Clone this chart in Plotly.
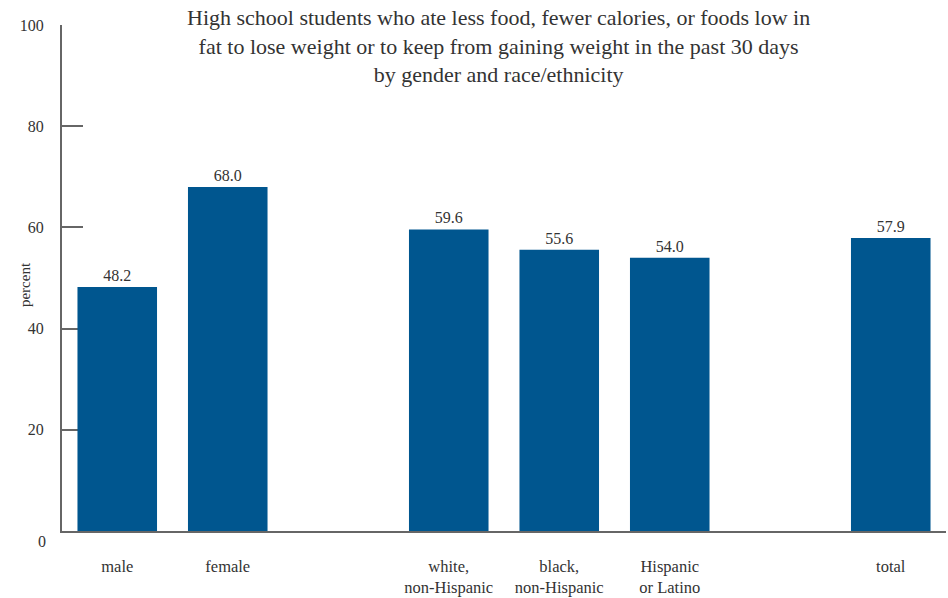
import plotly.graph_objects as go

categories = ["male", "female", "white,<br>non-Hispanic", "black,<br>non-Hispanic", "Hispanic<br>or Latino", "total"]
values = [48.2, 68.0, 59.6, 55.6, 54.0, 57.9]
value_labels = ["48.2", "68.0", "59.6", "55.6", "54.0", "57.9"]
slot_order = ["male", "female", " ", "white,<br>non-Hispanic", "black,<br>non-Hispanic", "Hispanic<br>or Latino", "  ", "total"]
y_ticks = [20, 40, 60, 80, 100]
title_text = ("High school students who ate less food, fewer calories, or foods low in<br>"
              "fat to lose weight or to keep from gaining weight in the past 30 days<br>"
              "by gender and race/ethnicity")

FONT = "Liberation Serif"
BAR = "#00568f"
AX = "#666666"
TXT = "#333333"
PLOT_W, PLOT_H = 884, 506

fig = go.Figure(go.Bar(
    x=categories, y=values, text=value_labels, textposition="outside",
    textfont=dict(family=FONT, size=16, color=TXT),
    marker=dict(color=BAR, line=dict(width=0)), width=0.72, cliponaxis=False,
))

fig.update_layout(
    width=948, height=598,
    paper_bgcolor="white", plot_bgcolor="white",
    margin=dict(l=62, r=2, t=25, b=67),
    showlegend=False,
    font=dict(family=FONT, color=TXT),
)

fig.update_xaxes(
    type="category", categoryorder="array", categoryarray=slot_order,
    range=[-0.5, 7.5], showline=True, linecolor=AX, linewidth=2,
    ticks="", showgrid=False, tickfont=dict(family=FONT, size=16.5, color=TXT),
    ticklabelstandoff=19, automargin=False,
)
fig.update_yaxes(
    range=[0, 100], tickvals=y_ticks, ticktext=[str(v) for v in y_ticks],
    showline=True, linecolor=AX, linewidth=2,
    ticks="inside", ticklen=21, tickwidth=2, tickcolor=AX,
    showgrid=False, zeroline=False, layer="below traces",
    tickfont=dict(family=FONT, size=16, color=TXT),
    ticklabelstandoff=13, automargin=False,
)

# title
fig.add_annotation(
    xref="paper", yref="paper", x=(498 - 62) / PLOT_W, y=1 + 22 / PLOT_H,
    text=title_text, showarrow=False, xanchor="center", yanchor="top", align="center",
    font=dict(family=FONT, size=22, color=TXT),
)
# y-axis title
fig.add_annotation(
    xref="paper", yref="paper", x=-37 / PLOT_W, y=0.486, text="percent", showarrow=False,
    textangle=-90, xanchor="center", yanchor="middle",
    font=dict(family=FONT, size=15, color=TXT),
)
# zero label, set below the axis as in the original
fig.add_annotation(
    xref="paper", yref="y", x=0, y=0, text="0", showarrow=False,
    xanchor="right", yanchor="middle", xshift=-14, yshift=-10,
    font=dict(family=FONT, size=16, color=TXT),
)

fig.write_html("out.html", config={"displayModeBar": False},
               post_script="document.body.style.margin='0';")
